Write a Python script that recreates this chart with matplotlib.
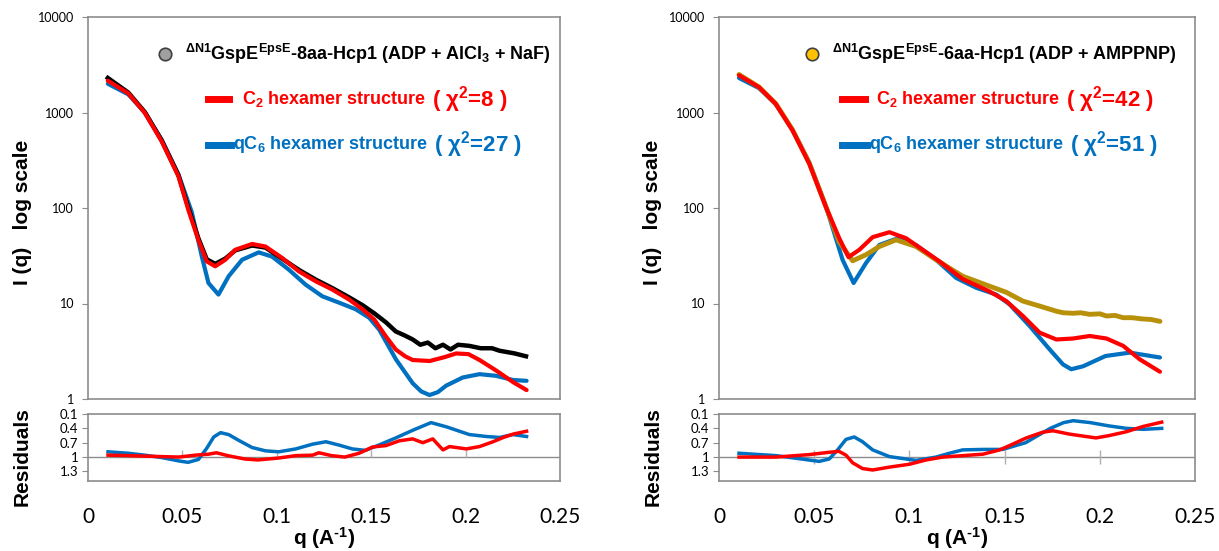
import matplotlib
matplotlib.use('Agg')
import matplotlib.pyplot as plt
from matplotlib.lines import Line2D

plt.rcParams['font.family'] = ['Liberation Sans', 'DejaVu Sans']
plt.rcParams['mathtext.fontset'] = 'custom'
plt.rcParams['mathtext.bf'] = 'Liberation Sans:bold'
plt.rcParams['mathtext.rm'] = 'Liberation Sans:bold'
plt.rcParams['mathtext.default'] = 'bf'

RED = '#FF0000'
BLUE = '#0070C0'
GOLD = '#B8900A'
GRAY = '#8C8C8C'

#############################################################################
# left panel: 8aa-Hcp1 (ADP + AlCl3 + NaF)

q_exp_l = [0.0105, 0.0213, 0.0301, 0.039, 0.0479, 0.0532, 0.0585, 0.0629, 0.0674,
           0.0727, 0.078, 0.0869, 0.094, 0.1028, 0.1117, 0.1206, 0.1294, 0.1383,
           0.1454, 0.1516, 0.158, 0.163, 0.168, 0.172, 0.176, 0.180, 0.184, 0.188,
           0.192, 0.196, 0.202, 0.208, 0.214, 0.218, 0.222, 0.226, 0.232]
i_exp_l = [2300, 1620, 1010, 510, 220, 100, 48, 29, 26, 29.5, 36, 40.5, 38.5,
           29.5, 22.5, 17.8, 14.5, 11.6, 9.6, 7.9, 6.3, 5.1, 4.6, 4.2, 3.7, 3.9,
           3.4, 3.7, 3.3, 3.7, 3.6, 3.4, 3.4, 3.2, 3.1, 3.0, 2.8]

q_c2_l = [0.0105, 0.0213, 0.0301, 0.039, 0.0479, 0.0532, 0.0585, 0.0629, 0.0674,
          0.0727, 0.078, 0.0869, 0.094, 0.1028, 0.1117, 0.1206, 0.1294, 0.1383,
          0.1454, 0.1516, 0.1575, 0.163, 0.168, 0.172, 0.181, 0.189, 0.195,
          0.2015, 0.2074, 0.2163, 0.2252, 0.2323]
i_c2_l = [2150, 1590, 990, 500, 215, 95, 46, 27.6, 24.5, 28.7, 36.5, 42, 39.5,
          30, 21.7, 17.1, 14, 11, 8.7, 6.8, 4.6, 3.3, 2.8, 2.56, 2.5, 2.75, 3.0,
          2.95, 2.56, 1.98, 1.5, 1.24]

q_c6_l = [0.0105, 0.0213, 0.0301, 0.039, 0.0479, 0.055, 0.0603, 0.0638, 0.0691,
          0.0745, 0.0816, 0.0904, 0.0975, 0.1064, 0.1152, 0.1241, 0.133, 0.1418,
          0.1489, 0.1543, 0.1631, 0.172, 0.1765, 0.1809, 0.1853, 0.1897, 0.1985,
          0.2074, 0.216, 0.2252, 0.2323]
i_c6_l = [2000, 1550, 1000, 520, 225, 90, 31, 16.4, 12.4, 19.3, 28.7, 34.3, 31,
          22.6, 15.8, 11.9, 10.2, 8.7, 7.1, 5.3, 2.6, 1.46, 1.2, 1.1, 1.18, 1.38,
          1.68, 1.82, 1.75, 1.58, 1.55]

q_res_c2_l = [0.0106, 0.0213, 0.030, 0.039, 0.048, 0.0567, 0.0638, 0.068, 0.074,
              0.083, 0.090, 0.101, 0.110, 0.119, 0.1223, 0.129, 0.136, 0.1436,
              0.1507, 0.1578, 0.1649, 0.172, 0.1773, 0.1826, 0.188, 0.1915,
              0.2004, 0.2074, 0.2145, 0.220, 0.2252, 0.2323]
r_c2_l = [0.96, 0.97, 0.98, 0.99, 1.0, 0.96, 0.94, 0.91, 0.97, 1.04, 1.06, 1.02,
          0.97, 0.96, 0.91, 0.97, 1.0, 0.92, 0.79, 0.76, 0.66, 0.62, 0.70, 0.62,
          0.85, 0.78, 0.83, 0.78, 0.68, 0.59, 0.52, 0.46]

q_res_c6_l = [0.0106, 0.0213, 0.030, 0.039, 0.048, 0.053, 0.0585, 0.063, 0.0666,
              0.0702, 0.0745, 0.0798, 0.0869, 0.094, 0.101, 0.110, 0.119, 0.126,
              0.133, 0.140, 0.147, 0.154, 0.163, 0.172, 0.1817, 0.190, 0.202,
              0.211, 0.218, 0.225, 0.2323]
r_c6_l = [0.89, 0.92, 0.96, 1.01, 1.08, 1.11, 1.05, 0.81, 0.58, 0.49, 0.53, 0.65,
          0.80, 0.87, 0.89, 0.83, 0.73, 0.68, 0.75, 0.83, 0.86, 0.75, 0.60, 0.44,
          0.28, 0.37, 0.53, 0.57, 0.59, 0.53, 0.57]

#############################################################################
# right panel: 6aa-Hcp1 (ADP + AMPPNP)

q_exp_r = [0.0105, 0.021, 0.0298, 0.0386, 0.0474, 0.0561, 0.0632, 0.0702, 0.0772,
           0.0842, 0.093, 0.1035, 0.114, 0.128, 0.142, 0.1509, 0.1596, 0.1684,
           0.1772, 0.1807, 0.186, 0.190, 0.1947, 0.200, 0.2035, 0.208, 0.2123,
           0.217, 0.222, 0.227, 0.2316]
i_exp_r = [2500, 1850, 1240, 660, 295, 104, 44, 28, 32.4, 39.5, 46.4, 39.5, 28.7,
           19.3, 15.2, 13.1, 10.6, 9.4, 8.3, 8.0, 7.9, 8.0, 7.7, 7.8, 7.4, 7.5,
           7.1, 7.1, 6.9, 6.8, 6.5]

q_c2_r = [0.0105, 0.021, 0.0298, 0.0386, 0.0474, 0.0561, 0.0632, 0.068, 0.0737,
          0.0807, 0.0895, 0.0982, 0.107, 0.1158, 0.128, 0.142, 0.1509, 0.1596,
          0.1684, 0.1772, 0.186, 0.1947, 0.2035, 0.2123, 0.221, 0.2316]
i_c2_r = [2450, 1840, 1230, 650, 292, 103, 48, 30.6, 36.5, 49.5, 55.8, 48.3, 36.5,
          27.6, 18, 13.4, 10.6, 7.4, 4.95, 4.2, 4.3, 4.57, 4.3, 3.6, 2.6, 1.93]

q_c6_r = [0.0105, 0.021, 0.0298, 0.0386, 0.0474, 0.0561, 0.0649, 0.0707, 0.0772,
          0.0842, 0.094, 0.1035, 0.114, 0.1246, 0.1351, 0.1456, 0.1526, 0.1632,
          0.1737, 0.1807, 0.185, 0.1912, 0.203, 0.2158, 0.2316]
i_c6_r = [2300, 1800, 1220, 660, 300, 105, 28.7, 16.4, 26.5, 41, 48.3, 41, 28.7,
          18.5, 14.6, 12.4, 9.8, 5.8, 3.3, 2.3, 2.05, 2.2, 2.82, 3.06, 2.72]

q_res_c2_r = [0.0105, 0.030, 0.047, 0.0579, 0.063, 0.0667, 0.0702, 0.0754, 0.0807,
              0.0895, 0.100, 0.1088, 0.1175, 0.128, 0.1386, 0.1474, 0.1526, 0.1614,
              0.170, 0.1754, 0.184, 0.198, 0.205, 0.214, 0.2228, 0.2325]
r_c2_r = [1.0, 1.0, 0.95, 0.90, 0.88, 0.96, 1.12, 1.24, 1.27, 1.21, 1.15, 1.06,
          1.0, 0.97, 0.94, 0.85, 0.76, 0.60, 0.48, 0.45, 0.52, 0.60, 0.55, 0.47,
          0.36, 0.27]

q_res_c6_r = [0.0105, 0.030, 0.047, 0.0526, 0.0579, 0.0623, 0.0667, 0.071, 0.0754,
              0.0807, 0.0895, 0.1035, 0.114, 0.121, 0.128, 0.1386, 0.149, 0.161,
              0.174, 0.181, 0.186, 0.195, 0.205, 0.214, 0.2228, 0.2325]
r_c6_r = [0.92, 0.97, 1.06, 1.09, 1.04, 0.85, 0.63, 0.58, 0.68, 0.85, 0.99, 1.07,
          1.0, 0.92, 0.85, 0.84, 0.84, 0.70, 0.40, 0.28, 0.24, 0.28, 0.35, 0.40,
          0.42, 0.40]

main_ticks = [1, 10, 100, 1000, 10000]
res_ticks = [0.1, 0.4, 0.7, 1, 1.3]
q_ticks = [0, 0.05, 0.1, 0.15, 0.2, 0.25]

#############################################################################

W, H = 1219, 551
fig = plt.figure(figsize=(W / 100, H / 100), dpi=100)


def box(x0, x1, y0, y1):
    return [x0 / W, 1 - y1 / H, (x1 - x0) / W, (y1 - y0) / H]


def style_spines(ax):
    for s in ax.spines.values():
        s.set_color(GRAY)
        s.set_linewidth(1.2)


def panel(x0, x1, exp, exp_style, c2, c6, res2, res6, legend, marks):
    ax = fig.add_axes(box(x0, x1, 17, 399))
    ax.set_yscale('log')
    ax.set_xlim(0, 0.25)
    ax.set_ylim(1, 10000)
    ax.plot(c6[0], c6[1], color=BLUE, lw=3, solid_capstyle='round',
            solid_joinstyle='round', zorder=2)
    ax.plot(exp[0], exp[1], zorder=3, solid_joinstyle='round', **exp_style)
    ax.plot(c2[0], c2[1], color=RED, lw=3, solid_capstyle='round',
            solid_joinstyle='round', zorder=4)
    ax.set_yticks(main_ticks)
    ax.set_yticklabels([str(t) for t in main_ticks], family='Lato', fontsize=9)
    ax.yaxis.set_minor_locator(plt.NullLocator())
    ax.tick_params(axis='y', length=4, color=GRAY, pad=6)
    ax.set_xticks([])
    style_spines(ax)

    (title, marker_face, c2_txt, c2_chi, c6_txt, c6_chi, pos) = legend
    ax.add_line(Line2D([pos[0]], [0.903], transform=ax.transAxes, marker='o',
                       ms=9, mfc=marker_face, mec='#404040', mew=1.2, ls='none'))
    ax.text(pos[1], 0.903, title, transform=ax.transAxes, fontsize=13,
            weight='bold', va='center', ha='left')
    for (y, col, xl, txt, chi, xt) in [(0.785, RED, pos[2], c2_txt, c2_chi, pos[3]),
                                      (0.665, BLUE, pos[4], c6_txt, c6_chi, pos[5])]:
        ax.add_line(Line2D(xl, [y, y], transform=ax.transAxes, color=col, lw=5))
        t = ax.text(xt, y, txt, transform=ax.transAxes, fontsize=13,
                    weight='bold', color=col, va='center', ha='left')
        ax.annotate(chi, xy=(1, 0.5), xycoords=t, xytext=(4, 0),
                    textcoords='offset points', fontsize=16, weight='bold',
                    color=col, va='center', ha='left')

    rx = fig.add_axes(box(x0, x1, 414, 481))
    rx.set_xlim(0, 0.25)
    rx.set_ylim(1.5, 0.1)
    rx.axhline(1, color=GRAY, lw=1, zorder=1)
    rx.vlines(q_ticks[1:-1], marks[0], marks[1], color='#B0B0B0', lw=1, zorder=1)
    rx.plot(res2[0], res2[1], color=RED, lw=2.5, solid_joinstyle='round', zorder=3)
    rx.plot(res6[0], res6[1], color=BLUE, lw=2.5, solid_joinstyle='round', zorder=2)
    rx.set_yticks(res_ticks)
    rx.set_yticklabels([str(t) for t in res_ticks], family='Lato', fontsize=9.5)
    rx.tick_params(axis='y', length=4, color=GRAY, pad=3)
    rx.set_xticks(q_ticks)
    rx.set_xticklabels([str(t) for t in q_ticks], family='Lato', fontsize=15)
    rx.tick_params(axis='x', length=0, pad=19)
    style_spines(rx)

    xc = (x0 + x1) / 2 / W
    fig.text(xc, 1 - 538 / H, 'q (A$^{\\text{-1}}$)', ha='center', va='center',
             fontsize=15, weight='bold')
    xl = (x0 - 66) / W
    fig.text(xl, 1 - 212 / H, 'I (q)   log scale', rotation=90, ha='center',
             va='center', fontsize=15, weight='bold')
    fig.text(xl, 1 - 457 / H, 'Residuals', rotation=90, ha='center',
             va='center', fontsize=15, weight='bold')
    return ax, rx


exp_l_style = dict(color='black', lw=3.2)
exp_r_style = dict(color=GOLD, lw=3.5, solid_capstyle='round')

panel(88, 560, (q_exp_l, i_exp_l), exp_l_style, (q_c2_l, i_c2_l),
      (q_c6_l, i_c6_l), (q_res_c2_l, r_c2_l), (q_res_c6_l, r_c6_l),
      (r'$^{\Delta N1}$GspE$^{EpsE}$-8aa-Hcp1 (ADP + AlCl$_3$ + NaF)', '#A0A0A0',
       r'C$_2$ hexamer structure ', r'( $\chi^2$=8 )',
       r'qC$_6$ hexamer structure', r'( $\chi^2$=27 )',
       (0.163, 0.205, [0.254, 0.298], 0.326, [0.254, 0.303], 0.307)),
      (0.86, 1.0))

panel(719, 1195, (q_exp_r, i_exp_r), exp_r_style, (q_c2_r, i_c2_r),
      (q_c6_r, i_c6_r), (q_res_c2_r, r_c2_r), (q_res_c6_r, r_c6_r),
      (r'$^{\Delta N1}$GspE$^{EpsE}$-6aa-Hcp1 (ADP + AMPPNP)', '#FFC000',
       r'C$_2$ hexamer structure ', r'( $\chi^2$=42 )',
       r'qC$_6$ hexamer structure', r'( $\chi^2$=51 )',
       (0.195, 0.237, [0.258, 0.307], 0.330, [0.258, 0.311], 0.315)),
      (0.85, 1.15))

fig.savefig('out.png', dpi=100)
